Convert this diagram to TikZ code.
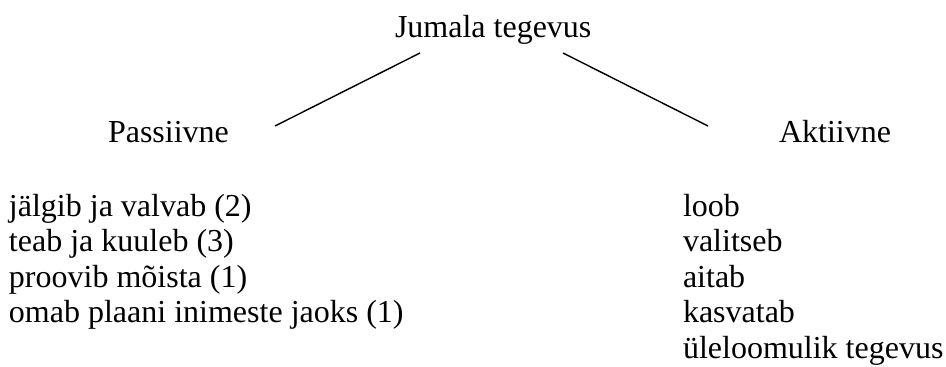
\documentclass[tikz,border=0pt]{standalone}
\usepackage{fontspec}
\setmainfont{Liberation Serif}
\begin{document}
\begin{tikzpicture}[x=1pt,y=1pt,
  lbl/.style={anchor=base west,inner sep=0pt,outer sep=0pt,font=\fontsize{32}{35.5}\selectfont},
  conn/.style={line width=1.4pt,black}]
\useasboundingbox (0,0) rectangle (946,-367);
% headings
\node[lbl] (top) at (395,-37) {Jumala tegevus};
\node[lbl] (pas) at (108,-142) {Passiivne};
\node[lbl] (akt) at (779,-142) {Aktiivne};
% left list
\node[lbl] (p1) at (9,-216) {jälgib ja valvab (2)};
\node[lbl] (p2) at (9,-251.5) {teab ja kuuleb (3)};
\node[lbl] (p3) at (9,-287) {proovib mõista (1)};
\node[lbl] (p4) at (9,-322.5) {omab plaani inimeste jaoks (1)};
% right list
\node[lbl] (a1) at (683,-216) {loob};
\node[lbl] (a2) at (683,-251.5) {valitseb};
\node[lbl] (a3) at (683,-287) {aitab};
\node[lbl] (a4) at (683,-322.5) {kasvatab};
\node[lbl] (a5) at (683,-358) {üleloomulik tegevus};
% connector ends
\coordinate (topL) at (420,-53);
\coordinate (topR) at (563,-53);
\coordinate (pasR) at (275,-126);
\coordinate (aktL) at (708,-126);
\draw[conn] (topL) -- (pasR);
\draw[conn] (topR) -- (aktL);
\end{tikzpicture}
\end{document}
